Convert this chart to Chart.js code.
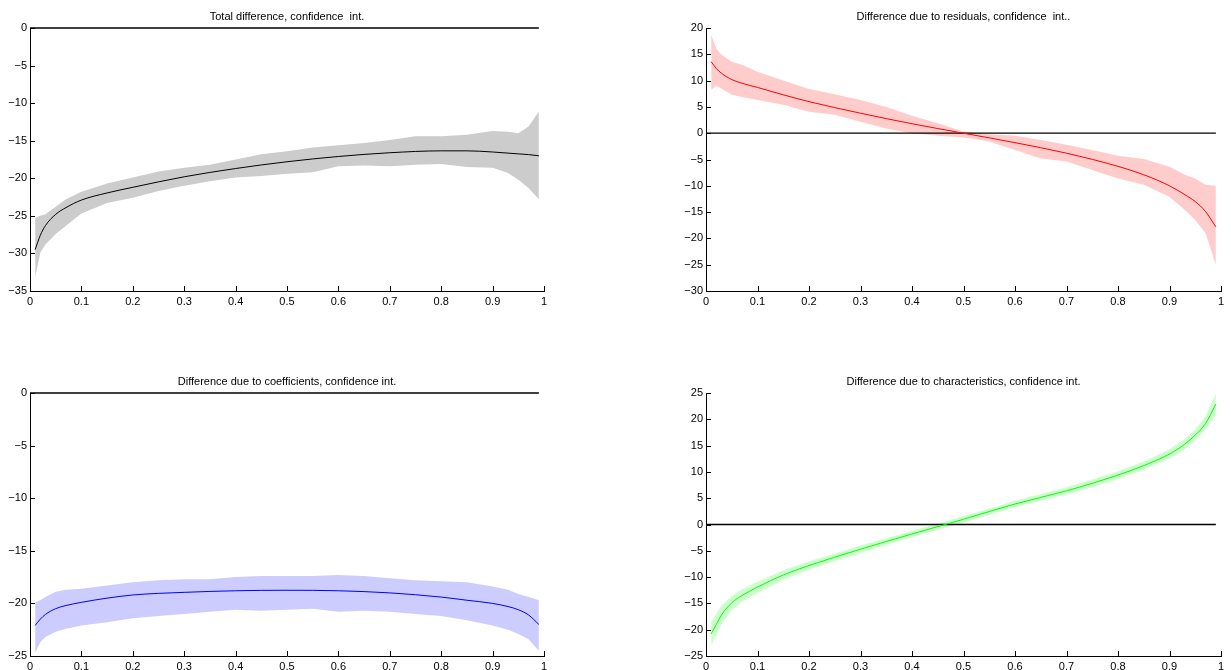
<!DOCTYPE html>
<html>
<head>
<meta charset="utf-8">
<script src="https://cdn.jsdelivr.net/npm/chart.js@4"></script>
<style>
  html, body { margin: 0; padding: 0; background: #fff; overflow: hidden; }
  .panel { position: absolute; }
</style>
</head>
<body>
<div class="panel" style="left:0;top:0;width:600px;height:320px"><canvas id="total"></canvas></div>
<div class="panel" style="left:676px;top:0;width:555px;height:320px"><canvas id="resid"></canvas></div>
<div class="panel" style="left:0;top:365px;width:600px;height:320px"><canvas id="coef"></canvas></div>
<div class="panel" style="left:676px;top:365px;width:555px;height:320px"><canvas id="charac"></canvas></div>
<script>
// quantile grids
const lineQ = [0.01, 0.02, 0.03, 0.05, 0.07, 0.1, 0.15, 0.2, 0.3, 0.4, 0.5, 0.6, 0.7, 0.8, 0.85, 0.9, 0.93, 0.95, 0.97, 0.99];
const bandQ = [0.01, 0.02, 0.03, 0.05, 0.07, 0.1, 0.15, 0.2, 0.25, 0.3, 0.35, 0.4, 0.45, 0.5, 0.55, 0.6, 0.65, 0.7, 0.75, 0.8, 0.85, 0.9, 0.93, 0.95, 0.97, 0.99];
const zeroQ = [0, 0.99];
const zeroY = [0, 0];

// total difference
const totalMid = [-29.5, -27.6, -26.3, -24.8, -23.9, -22.9, -21.95, -21.2, -19.8, -18.7, -17.8, -17.1, -16.6, -16.35, -16.35, -16.5, -16.65, -16.75, -16.85, -17.0];
const totalUp = [-25.3, -25.0, -24.8, -23.8, -22.8, -21.8, -20.7, -19.9, -19.1, -18.6, -18.2, -17.5, -16.8, -16.4, -15.9, -15.6, -15.3, -14.9, -14.4, -14.4, -14.2, -13.7, -13.8, -14.0, -13.1, -11.1];
const totalLo = [-33.2, -29.9, -28.8, -27.4, -26.3, -24.7, -23.3, -22.6, -21.7, -21.0, -20.4, -19.9, -19.7, -19.4, -19.2, -18.4, -18.3, -18.4, -18.2, -18.1, -18.5, -18.6, -19.3, -20.2, -21.3, -22.8];

// residuals
const residMid = [13.6, 12.3, 11.4, 10.2, 9.5, 8.7, 7.3, 6.0, 3.8, 1.8, 0.0, -1.8, -3.8, -6.3, -7.9, -10.0, -11.7, -13.0, -14.9, -17.8];
const residUp = [18.7, 16.1, 14.9, 13.6, 13.0, 11.7, 10.0, 8.4, 7.4, 6.3, 5.0, 3.3, 1.9, 0.3, -0.2, -0.5, -1.3, -2.2, -3.2, -4.3, -4.9, -6.4, -7.9, -8.6, -9.8, -10.0];
const residLo = [8.2, 9.0, 8.5, 7.3, 6.9, 6.3, 5.4, 4.1, 3.5, 2.2, 0.9, 0.0, -0.5, -0.8, -1.6, -3.2, -4.8, -5.4, -7.0, -8.6, -9.8, -12.1, -14.6, -16.5, -19.0, -25.0];

// coefficients
const coefMid = [-22.1, -21.5, -21.05, -20.5, -20.2, -19.9, -19.5, -19.2, -18.95, -18.8, -18.75, -18.8, -19.0, -19.4, -19.7, -20.0, -20.3, -20.6, -21.1, -22.0];
const coefUp = [-19.9, -19.7, -19.4, -18.9, -18.7, -18.6, -18.3, -18.0, -17.8, -17.7, -17.7, -17.5, -17.4, -17.4, -17.4, -17.3, -17.4, -17.6, -17.8, -17.9, -18.0, -18.4, -18.7, -19.1, -19.4, -19.7];
const coefLo = [-24.7, -23.7, -23.2, -22.7, -22.4, -22.1, -21.8, -21.4, -21.2, -21.0, -20.8, -20.6, -20.7, -20.6, -20.5, -20.8, -20.7, -20.8, -21.0, -21.2, -21.6, -22.1, -22.5, -22.9, -23.4, -24.5];

// characteristics
const charMid = [-20.8, -19.0, -17.2, -14.9, -13.5, -11.9, -9.6, -7.8, -4.7, -1.8, 1.0, 3.9, 6.4, 9.4, 11.2, 13.4, 15.3, 17.0, 19.2, 22.9];
const charUp = [-18.5, -17.0, -15.4, -13.6, -12.3, -10.9, -8.7, -7.0, -5.5, -4.0, -2.6, -1.2, 0.2, 1.6, 3.0, 4.5, 5.8, 7.1, 8.6, 10.1, 12.0, 14.3, 16.3, 18.0, 20.6, 24.9];
const charLo = [-23.0, -21.1, -19.0, -16.3, -14.7, -13.0, -10.5, -8.6, -7.0, -5.4, -3.9, -2.4, -1.0, 0.4, 1.8, 3.3, 4.5, 5.7, 7.1, 8.6, 10.4, 12.5, 14.3, 16.0, 18.1, 20.7];

// tick labels
const xTicks = [0, 0.1, 0.2, 0.3, 0.4, 0.5, 0.6, 0.7, 0.8, 0.9, 1];
const totalTicks = [-35, -30, -25, -20, -15, -10, -5, 0];
const residTicks = [-30, -25, -20, -15, -10, -5, 0, 5, 10, 15, 20];
const coefTicks = [-25, -20, -15, -10, -5, 0];
const charTicks = [-25, -20, -15, -10, -5, 0, 5, 10, 15, 20, 25];

const pts = (xs, ys) => xs.map((x, i) => ({ x: x, y: ys[i] }));
const font = { family: 'Liberation Sans, Arial, sans-serif', size: 11 };

// matlab style ticks pointing into the axes
const inwardTicks = {
  id: 'inwardTicks',
  afterDraw(chart) {
    const { ctx, chartArea, scales } = chart;
    ctx.save();
    ctx.strokeStyle = '#000';
    ctx.lineWidth = 1;
    ctx.beginPath();
    scales.x.ticks.forEach(t => {
      const px = Math.round(scales.x.getPixelForValue(t.value)) + 0.5;
      ctx.moveTo(px, chartArea.bottom);
      ctx.lineTo(px, chartArea.bottom - 5);
    });
    scales.y.ticks.forEach(t => {
      const py = Math.round(scales.y.getPixelForValue(t.value)) + 0.5;
      ctx.moveTo(chartArea.left, py);
      ctx.lineTo(chartArea.left + 5, py);
    });
    ctx.stroke();
    ctx.restore();
  }
};

function makePanel(id, title, mid, up, lo, yTicks, lineColor, bandColor, padRight) {
  new Chart(document.getElementById(id), {
    type: 'line',
    data: {
      datasets: [
        { data: pts(lineQ, mid), borderColor: lineColor, borderWidth: 1, pointRadius: 0, cubicInterpolationMode: 'monotone', fill: false },
        { data: pts(zeroQ, zeroY), borderColor: '#000', borderWidth: 1.3, pointRadius: 0, fill: false, clip: 4 },
        { data: pts(bandQ, up), borderWidth: 0, borderColor: bandColor, backgroundColor: bandColor, pointRadius: 0, fill: '+1' },
        { data: pts(bandQ, lo), borderWidth: 0, borderColor: bandColor, backgroundColor: bandColor, pointRadius: 0, fill: false }
      ]
    },
    options: {
      responsive: true,
      maintainAspectRatio: false,
      animation: false,
      layout: { padding: { left: 0, right: padRight, top: 0, bottom: 10 } },
      plugins: {
        legend: { display: false },
        tooltip: { enabled: false },
        title: {
          display: true,
          text: title,
          fullSize: false,
          color: '#000',
          font: { family: font.family, size: 11, weight: 'normal', lineHeight: '13px' },
          padding: { top: 10, bottom: 5 }
        }
      },
      scales: {
        x: {
          type: 'linear',
          min: 0,
          max: 1,
          afterFit(scale) { scale.height = 19; },
          afterBuildTicks(scale) { scale.ticks = xTicks.map(v => ({ value: v })); },
          grid: { display: false, drawTicks: false },
          border: { display: true, color: '#000', width: 1 },
          ticks: {
            padding: 4,
            color: '#000',
            maxRotation: 0,
            autoSkip: false,
            font: font,
            callback: v => String(Math.round(v * 10) / 10)
          }
        },
        y: {
          type: 'linear',
          min: yTicks[0],
          max: yTicks[yTicks.length - 1],
          afterFit(scale) { scale.width = 30; },
          afterBuildTicks(scale) { scale.ticks = yTicks.map(v => ({ value: v })); },
          grid: { display: false, drawTicks: false },
          border: { display: true, color: '#000', width: 1 },
          ticks: {
            padding: 3,
            color: '#000',
            autoSkip: false,
            font: font,
            callback: v => String(v).replace('-', '\u2212')
          }
        }
      }
    },
    plugins: [inwardTicks]
  });
}

makePanel('total', 'Total difference, confidence  int.', totalMid, totalUp, totalLo, totalTicks, '#000000', '#cccccc', 56);
makePanel('resid', 'Difference due to residuals, confidence  int..', residMid, residUp, residLo, residTicks, '#ff0000', '#ffcccc', 10);
makePanel('coef', 'Difference due to coefficients, confidence int.', coefMid, coefUp, coefLo, coefTicks, '#0000ff', '#ccccff', 56);
makePanel('charac', 'Difference due to characteristics, confidence int.', charMid, charUp, charLo, charTicks, '#00ff00', '#ccffcc', 10);
</script>
</body>
</html>
